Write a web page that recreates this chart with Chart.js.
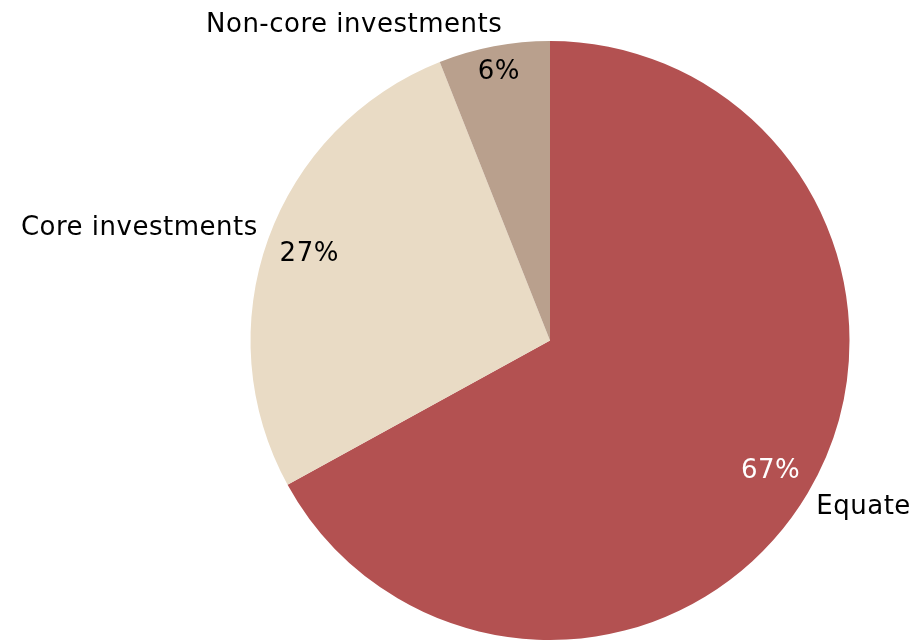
<!DOCTYPE html>
<html>
<head>
<meta charset="utf-8">
<script src="https://cdn.jsdelivr.net/npm/chart.js@4.4.0/dist/chart.umd.min.js"></script>
<style>
  html, body { margin: 0; padding: 0; background: #fff; }
  #wrap { width: 923px; height: 640px; }
</style>
</head>
<body>
<div id="wrap"><canvas id="pie_canvas"></canvas></div>
<script>
const categories = ["Equate", "Core investments", "Non-core investments"];
const shares = [67, 27, 6];
const sliceColors = ["#B35151", "#E9DBC5", "#B9A08D"];
const pctColors = ["#ffffff", "#000000", "#000000"];

const fontSpec = '26px "DejaVu Sans", Verdana, sans-serif';

// draws percentage inside each slice and category name outside
const sliceLabels = {
    id: 'sliceLabels',
    afterDatasetsDraw(chart) {
        const ctx = chart.ctx;
        const meta = chart.getDatasetMeta(0);
        ctx.save();
        ctx.font = fontSpec;
        ctx.letterSpacing = '0.5px';
        meta.data.forEach((arc, i) => {
            const mid = (arc.startAngle + arc.endAngle) / 2;
            const dx = Math.cos(mid), dy = Math.sin(mid);
            const r = arc.outerRadius;

            // percentage, box fitted just inside the edge
            const pct = shares[i] + '%';
            const w = ctx.measureText(pct).width, h = 22;
            const half = 0.5 * (w * Math.abs(dx) + h * Math.abs(dy));
            const pr = r - half - 12;
            ctx.fillStyle = pctColors[i];
            ctx.textAlign = 'center';
            ctx.textBaseline = 'middle';
            ctx.fillText(pct, arc.x + dx * pr, arc.y + dy * pr);

            // category name outside the edge point
            const ex = arc.x + dx * r, ey = arc.y + dy * r;
            const gx = 25 * Math.abs(dx) - 13;
            const ax = ex + (dx >= 0 ? gx : -gx);
            const ay = dy >= 0 ? ey + 21 : ey + 1.3 - 15.6 * Math.abs(dy);
            ctx.fillStyle = '#000';
            ctx.textAlign = dx >= 0 ? 'left' : 'right';
            ctx.textBaseline = 'alphabetic';
            ctx.fillText(categories[i], ax, ay);
        });
        ctx.restore();
    }
};

new Chart(document.getElementById('pie_canvas'), {
    type: 'pie',
    data: {
        labels: categories,
        datasets: [{
            data: shares,
            backgroundColor: sliceColors,
            borderWidth: 0
        }]
    },
    options: {
        responsive: true,
        maintainAspectRatio: false,
        animation: false,
        layout: { padding: { left: 250, right: 73, top: 41, bottom: 0 } },
        plugins: {
            legend: { display: false },
            tooltip: { enabled: false }
        }
    },
    plugins: [sliceLabels]
});
</script>
</body>
</html>
